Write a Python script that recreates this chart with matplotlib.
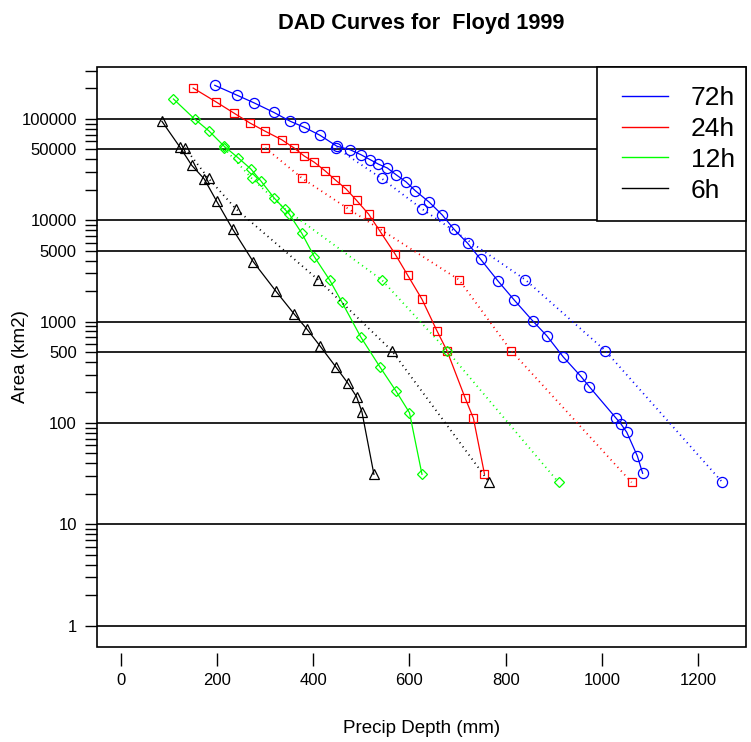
import matplotlib
matplotlib.use("Agg")
import matplotlib.pyplot as plt
from matplotlib.patches import Rectangle
from matplotlib.lines import Line2D
from matplotlib.ticker import FixedLocator, NullFormatter

plt.rcParams['font.family'] = ['Liberation Sans', 'DejaVu Sans']

title = "DAD Curves for  Floyd 1999"
x_label = "Precip Depth (mm)"
y_label = "Area (km2)"

durations = ["72h", "24h", "12h", "6h"]
colors = ["#0000FF", "#FF0000", "#00FF00", "#000000"]
markers = ["o", "s", "D", "^"]

# Solid DAD curves (depth mm, area km2)
depth_72h = [195, 242, 277, 318, 352, 381, 414, 449, 476, 499, 518, 535, 554, 572,
             593, 612, 641, 668, 693, 721, 748, 784, 818, 856, 886, 920, 956, 974,
             1030, 1040, 1052, 1074, 1085]
area_72h = [215000, 171000, 144000, 116000, 94900, 82800, 69000, 53800, 49800, 44400,
            39700, 35900, 32800, 28200, 23900, 19600, 15100, 11300, 8110, 5930, 4120,
            2520, 1630, 1020, 721, 447, 290, 228, 111, 97.5, 80.8, 47.1, 31.8]

depth_24h = [150, 198, 234, 268, 300, 334, 360, 381, 402, 424, 445, 468, 490, 515,
             539, 570, 596, 626, 657, 678, 716, 733, 756]
area_24h = [202000, 147000, 115000, 91300, 75600, 62500, 51700, 43100, 37400, 30900,
            25200, 20400, 15700, 11500, 7750, 4650, 2880, 1660, 813, 516, 175, 111, 31.3]

depth_12h = [109, 153, 183, 214, 244, 270, 291, 318, 350, 376, 402, 434, 459, 499,
             539, 572, 600, 626]
area_12h = [157500, 100000, 76100, 54100, 41200, 32100, 24400, 16700, 11500, 7440,
            4370, 2570, 1570, 700, 354, 206, 126, 31.1]

depth_6h = [85, 123, 147, 173, 199, 232, 275, 322, 360, 387, 414, 447, 472, 490, 501, 526]
area_6h = [94900, 52300, 34900, 25600, 15400, 8200, 3900, 2000, 1190, 840, 574, 356,
           246, 181, 129, 31.1]

# Dotted curves (common areas)
env_area = [51800, 25900, 12950, 2590, 518, 25.9]
env_depth_72h = [448, 542, 626, 841, 1007, 1251]
env_depth_24h = [300, 377, 473, 703, 811, 1062]
env_depth_12h = [214, 272, 341, 542, 678, 910]
env_depth_6h = [133, 182, 239, 410, 563, 766]

ref_lines = [1, 10, 100, 500, 1000, 5000, 10000, 50000, 100000]
y_major = [1, 10, 100, 500, 1000, 5000, 10000, 50000, 100000]
y_major_labels = ["1", "10", "100", "500", "1000", "5000", "10000", "50000", "100000"]
x_ticks = [0, 200, 400, 600, 800, 1000, 1200]

solid_depths = [depth_72h, depth_24h, depth_12h, depth_6h]
solid_areas = [area_72h, area_24h, area_12h, area_6h]
env_depths = [env_depth_72h, env_depth_24h, env_depth_12h, env_depth_6h]

W, H = 751, 742
fig = plt.figure(figsize=(W / 100, H / 100), dpi=100)
L, R, T, B = 97, 746, 67, 647
ax = fig.add_axes([L / W, (H - B) / H, (R - L) / W, (B - T) / H])

for yv in ref_lines:
    ax.axhline(yv, color="#222222", lw=1.4, zorder=1)

msize = {"o": 7.3, "s": 6.3, "D": 5.6, "^": 7.3}
for dep, ar, edep, c, m in zip(solid_depths, solid_areas, env_depths, colors, markers):
    ax.plot(dep, ar, color=c, lw=0.9, marker=m, ms=msize[m], mfc="none", mec=c,
            mew=0.9, zorder=3)
    ax.plot(edep, env_area, color=c, lw=1.3, ls=(0, (0.6, 2.2)), marker=m,
            ms=msize[m], mfc="none", mec=c, mew=0.9, zorder=3)

ax.set_yscale("log")
ax.set_xlim(-50, 1300)
ax.set_ylim(10 ** -0.212, 10 ** 5.513)

ax.xaxis.set_major_locator(FixedLocator(x_ticks))
ax.set_xticklabels([str(v) for v in x_ticks])
ax.yaxis.set_major_locator(FixedLocator(y_major))
ax.set_yticklabels(y_major_labels)
minor = []
for k in range(0, 6):
    for mlt in range(2, 10):
        v = mlt * 10 ** k
        if v not in y_major and v <= 300000:
            minor.append(v)
ax.yaxis.set_minor_locator(FixedLocator(minor))
ax.yaxis.set_minor_formatter(NullFormatter())

ax.tick_params(axis="both", which="both", direction="out", length=9, width=1,
               colors="black", labelsize=12)
ax.tick_params(axis="y", which="both", pad=5.5)
ax.tick_params(axis="x", which="both", pad=6)

for sp in ax.spines.values():
    sp.set_visible(False)
ax.spines["bottom"].set_position(("outward", 4))
ax.add_patch(Rectangle((0, 0), 1, 1, transform=ax.transAxes, fill=False,
                       lw=1.2, ec="black", clip_on=False, zorder=5))

ax.set_title(title, fontsize=15.7, fontweight="bold", pad=27.5)
ax.set_xlabel(x_label, fontsize=13.5)
ax.set_ylabel(y_label, fontsize=13.5)
ax.xaxis.set_label_coords(0.5, (B - 720) / (B - T))
ax.yaxis.set_label_coords((29 - L) / (R - L), 0.5)

# legend: frameless entries + a separate box matching the reference frame
handles = [Line2D([0], [0], color=c, lw=1) for c in colors]
leg = ax.legend(handles, durations, loc="upper left",
                bbox_to_anchor=((622 - L) / (R - L), (B - 86) / (B - T)),
                borderaxespad=0, borderpad=0, fontsize=19, frameon=False,
                handlelength=1.75, handletextpad=0.85, labelspacing=0.26)
leg.set_zorder(6)
ax.add_patch(Rectangle(((597 - L) / (R - L), (B - 221) / (B - T)),
                       (R - 597) / (R - L), (221 - T) / (B - T),
                       transform=ax.transAxes, fill=True, fc="white",
                       ec="black", lw=1.2, clip_on=False, zorder=5.5))

fig.savefig("out.png", dpi=100)
